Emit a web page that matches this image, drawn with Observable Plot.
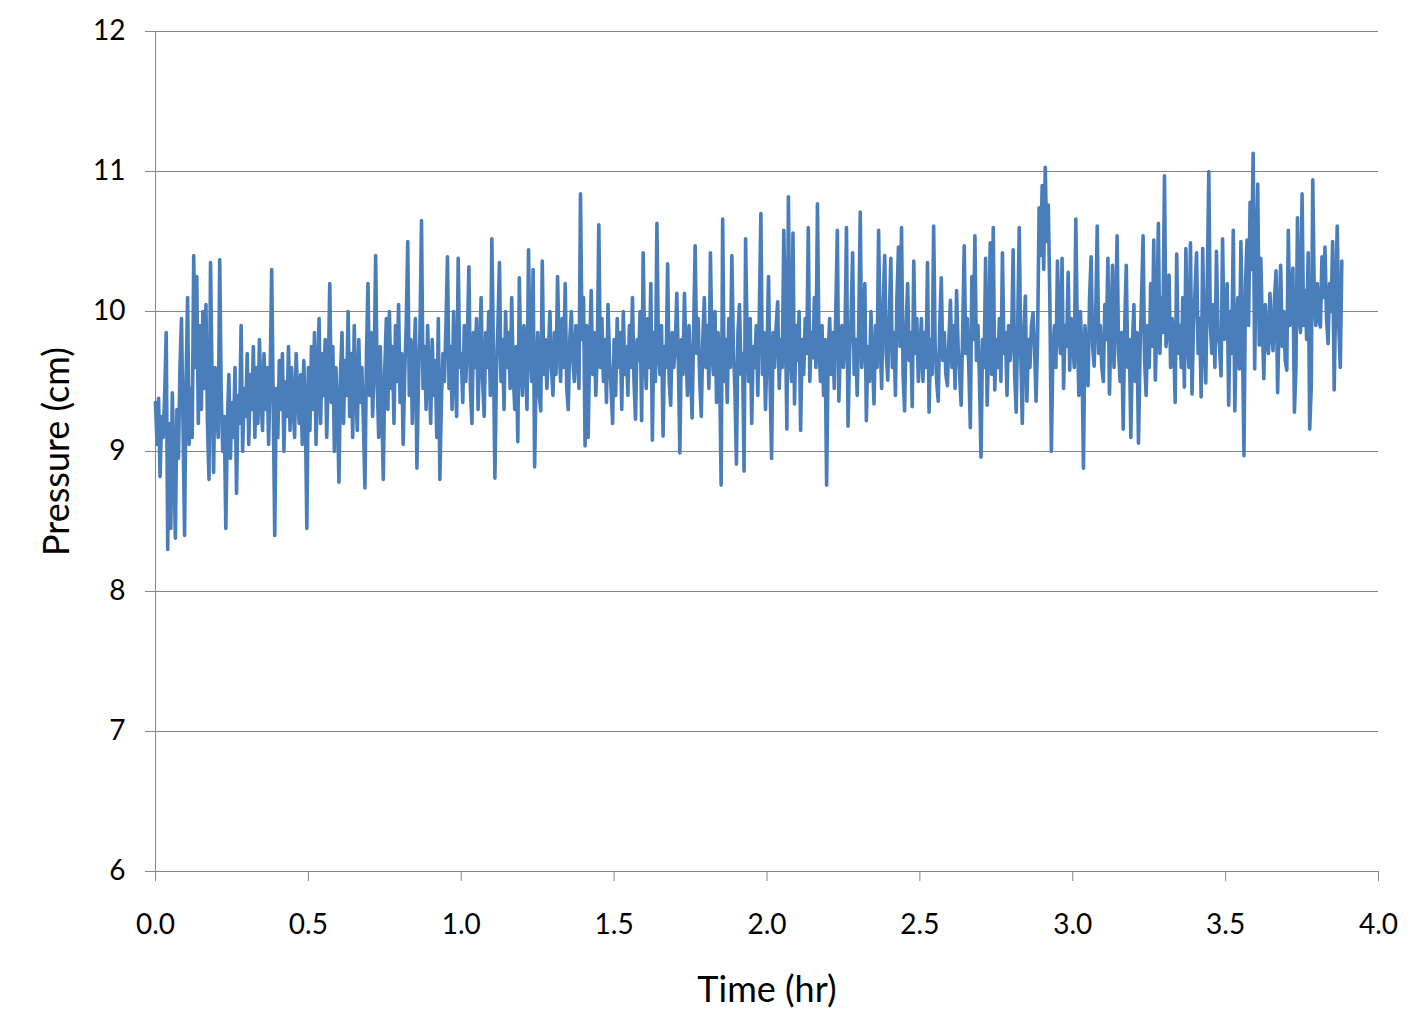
<!DOCTYPE html>
<html>
<head>
<meta charset="utf-8">
<script src="https://cdn.jsdelivr.net/npm/d3@7"></script>
<script src="https://cdn.jsdelivr.net/npm/@observablehq/plot@0.6"></script>
<style>
  html, body { margin: 0; padding: 0; background: white; overflow: hidden; }
</style>
</head>
<body>
<div id="chart"></div>
<script>
// sampling interval of the pressure record, in hours
const timeStep = 0.005;

// pressure readings (cm), one array per half hour
const pressure0to05 = [
  9.35, 9.05, 9.38, 8.82, 9.25, 9.1, 9.4, 9.85, 8.3, 9.2,
  8.45, 9.42, 8.9, 8.38, 9.3, 8.95, 9.6, 9.95, 9.2, 8.4,
  9.5, 10.1, 9.05, 9.45, 9.1, 10.4, 9.6, 10.25, 9.2, 9.9,
  9.3, 10.0, 9.45, 10.05, 9.2, 8.8, 10.35, 9.5, 8.85, 9.6,
  9.3, 9.1, 10.37, 9.4, 9.0, 9.25, 8.45, 9.2, 9.55, 8.95,
  9.35, 9.1, 9.6, 8.7, 9.4, 9.2, 9.9, 9.0, 9.45, 9.25,
  9.7, 9.05, 9.55, 9.3, 9.75, 9.1, 9.6, 9.2, 9.8, 9.4,
  9.15, 9.7, 9.3, 9.6, 9.05, 9.55, 10.3, 9.35, 8.4, 9.45,
  9.1, 9.65, 9.3, 9.7, 9.0, 9.5, 9.25, 9.75, 9.15, 9.6,
  9.35, 9.1, 9.7, 9.4, 9.2, 9.55, 9.05, 9.65, 9.3, 8.45
];
const pressure05to10 = [
  9.6, 9.15, 9.75, 9.3, 9.85, 9.05, 9.5, 9.95, 9.2, 9.7,
  9.4, 9.8, 9.1, 9.55, 10.2, 9.35, 9.75, 9.0, 9.6, 9.3,
  8.78, 9.55, 9.85, 9.2, 9.65, 9.4, 10.0, 9.25, 9.7, 9.1,
  9.9, 9.45, 9.15, 9.8, 9.35, 9.6, 9.2, 8.74, 9.7, 10.2,
  9.4, 9.85, 9.25, 9.6, 10.4, 9.5, 9.1, 9.75, 9.35, 8.8,
  9.6, 9.95, 9.3, 10.0, 9.45, 9.75, 9.2, 9.9, 9.5, 10.05,
  9.35, 9.7, 9.05, 9.55, 9.9, 10.5, 9.4, 9.8, 9.2, 9.65,
  9.95, 8.88, 9.5, 9.85, 10.65, 9.45, 9.75, 9.3, 9.9, 9.55,
  9.2, 9.8, 9.4, 9.65, 9.1, 9.95, 8.8, 9.35, 9.7, 9.5,
  9.9, 10.39, 9.45, 9.75, 9.3, 10.0, 9.55, 9.25, 10.38, 9.6
];
const pressure10to15 = [
  9.7, 9.35, 9.9, 9.5, 9.8, 10.32, 9.45, 9.2, 9.85, 9.6,
  9.95, 9.3, 9.7, 10.1, 9.5, 9.25, 9.85, 9.6, 10.0, 9.4,
  10.52, 9.75, 8.81, 9.55, 9.9, 10.35, 9.5, 9.8, 9.3, 10.0,
  9.6, 9.85, 9.45, 10.1, 9.55, 9.3, 9.75, 9.07, 10.24, 9.6,
  9.4, 9.9, 9.65, 9.3, 10.44, 9.7, 9.5, 10.3, 8.89, 9.6,
  9.85, 9.4, 9.29, 10.36, 9.55, 9.8, 9.45, 9.7, 10.0, 9.6,
  9.4, 9.85, 9.55, 10.25, 9.75, 9.5, 9.95, 9.6, 10.2, 9.45,
  9.3, 9.8, 10.0, 9.65, 9.5, 9.9, 9.7, 9.45, 10.84, 9.8,
  10.1, 9.04, 9.9, 9.1, 9.75, 10.15, 9.55, 9.85, 9.4, 9.7,
  10.62, 9.6, 9.95, 9.5, 9.8, 9.35, 10.05, 9.65, 9.45, 9.2
];
const pressure15to20 = [
  9.8, 9.4, 9.95, 9.6, 9.85, 9.3, 10.0, 9.55, 9.75, 9.4,
  9.9, 9.6, 10.1, 9.5, 9.23, 9.8, 9.65, 10.0, 9.22, 10.42,
  9.7, 9.45, 9.95, 9.6, 10.2, 9.08, 9.85, 9.5, 10.63, 9.7,
  9.55, 9.9, 9.11, 9.75, 9.6, 10.34, 9.5, 9.33, 9.85, 9.6,
  9.75, 10.13, 9.65, 8.99, 9.8, 9.55, 10.13, 9.7, 9.4, 9.9,
  9.6, 9.24, 9.85, 10.47, 9.7, 9.95, 9.5, 9.25, 9.8, 10.1,
  9.6, 9.9, 9.45, 10.42, 9.7, 9.55, 10.0, 9.35, 9.85, 9.6,
  8.76, 10.66, 9.5, 9.8, 9.35, 9.95, 9.6, 10.4, 9.75, 9.45,
  8.91, 9.85, 10.05, 9.55, 9.7, 8.86, 10.52, 9.8, 9.5, 9.95,
  9.2, 9.75, 9.6, 9.9, 9.4, 10.0, 10.7, 9.55, 9.85, 9.3
];
const pressure20to25 = [
  9.7, 10.25, 9.5, 8.95, 9.85, 9.6, 9.9, 10.07, 9.45, 9.8,
  9.6, 10.58, 9.95, 9.16, 10.82, 9.7, 9.5, 10.56, 9.34, 9.9,
  9.65, 10.0, 9.15, 9.8, 9.55, 9.95, 9.7, 10.6, 9.5, 9.85,
  9.67, 10.1, 9.6, 10.77, 9.75, 9.5, 9.9, 9.4, 9.8, 8.76,
  9.7, 9.95, 9.55, 9.85, 9.45, 10.0, 10.58, 9.36, 9.75, 9.9,
  9.6, 9.8, 10.6, 9.18, 9.7, 9.95, 10.42, 9.55, 9.8, 9.4,
  9.9, 10.71, 9.6, 9.85, 10.2, 9.22, 9.75, 9.5, 10.0, 9.65,
  9.34, 9.9, 9.6, 10.58, 9.8, 9.45, 10.05, 10.4, 9.7, 9.51,
  9.95, 10.38, 9.6, 9.85, 9.4, 10.1, 10.46, 9.75, 10.6, 9.55,
  9.29, 9.9, 10.2, 9.65, 9.85, 9.32, 10.36, 9.7, 9.95, 9.5
];
const pressure25to30 = [
  9.7, 9.95, 9.5, 9.85, 9.6, 10.35, 9.28, 9.8, 9.55, 10.61,
  9.75, 9.5, 9.36, 9.9, 10.24, 9.65, 9.85, 9.55, 9.47, 9.8,
  10.08, 9.6, 9.9, 9.45, 10.15, 9.75, 9.55, 9.33, 9.85, 10.47,
  9.7, 9.95, 9.6, 9.17, 10.25, 9.8, 10.54, 9.65, 9.9, 9.5,
  8.96, 9.8, 9.6, 10.38, 9.33, 9.75, 10.49, 9.55, 10.6, 9.44,
  9.8, 9.6, 9.95, 9.5, 10.42, 9.7, 9.85, 9.4, 9.9, 9.65,
  9.8, 10.44, 9.55, 9.28, 9.9, 10.6, 9.7, 9.2, 9.85, 10.11,
  9.36, 9.8, 9.6, 9.9, 9.99, 9.75, 9.36, 9.8, 10.74, 10.4,
  10.9, 10.3, 11.03, 10.5, 10.76, 10.1, 9.0, 9.7, 9.9, 9.6,
  10.36, 9.85, 9.7, 10.38, 9.45, 9.9, 9.75, 10.28, 9.58, 9.95
];
const pressure30to35 = [
  9.8, 9.6, 10.66, 9.85, 9.4, 10.0, 9.7, 8.88, 9.9, 9.65,
  9.47, 10.1, 10.39, 9.75, 9.61, 9.95, 10.61, 9.7, 9.9, 9.6,
  9.5, 10.05, 9.8, 10.38, 9.41, 9.85, 10.33, 9.6, 9.95, 10.54,
  9.7, 9.5, 9.85, 9.16, 9.9, 10.33, 9.6, 9.8, 9.1, 9.75,
  10.05, 9.5, 9.85, 9.06, 9.7, 10.1, 10.54, 9.65, 9.4, 9.9,
  9.6, 10.2, 9.75, 10.51, 9.51, 9.9, 10.63, 9.7, 10.1, 9.85,
  10.97, 9.75, 9.9, 10.26, 9.6, 9.95, 9.8, 9.35, 10.41, 9.7,
  9.9, 9.6, 10.1, 9.46, 10.45, 9.8, 9.6, 10.49, 9.41, 9.9,
  10.15, 10.42, 9.7, 9.95, 9.39, 10.45, 9.8, 9.49, 10.2, 11.0,
  9.9, 9.7, 10.05, 9.6, 10.43, 9.85, 9.75, 9.54, 10.52, 9.8
];
const pressure35to388 = [
  9.9, 10.2, 9.33, 10.0, 9.7, 10.58, 9.29, 9.85, 10.1, 9.59,
  10.5, 9.8, 8.97, 10.2, 10.51, 9.9, 10.78, 10.3, 11.13, 9.59,
  10.4, 10.91, 9.76, 10.38, 9.9, 9.52, 10.05, 9.8, 9.7, 10.13,
  9.85, 9.72, 10.1, 10.29, 9.42, 9.95, 10.33, 9.75, 10.0, 9.65,
  9.58, 10.58, 9.9, 10.1, 10.31, 9.28, 9.6, 10.67, 10.0, 9.85,
  10.84, 9.9, 10.15, 9.8, 10.42, 9.16, 9.46, 10.94, 10.1, 9.9,
  10.2, 9.95, 9.89, 10.39, 10.1, 10.46, 9.95, 9.77, 10.2, 10.0,
  10.5, 9.44, 10.1, 10.61, 9.9, 9.6, 10.36
];

const xTicks = [0, 0.5, 1, 1.5, 2, 2.5, 3, 3.5, 4];
const yTicks = [6, 7, 8, 9, 10, 11, 12];

const pressure = [
  ...pressure0to05, ...pressure05to10, ...pressure10to15, ...pressure15to20,
  ...pressure20to25, ...pressure25to30, ...pressure30to35, ...pressure35to388
];
const records = pressure.map((p, i) => ({time: i * timeStep, pressure: p}));

const gray = "#868686";

let chart = Plot.plot({
  width: 1423,
  height: 1035,
  marginLeft: 155,
  marginRight: 45,
  marginTop: 31,
  marginBottom: 164,
  style: {fontFamily: "Lato, 'Open Sans', sans-serif", fontSize: "28px", color: "black", background: "white"},
  x: {domain: [0, 4]},
  y: {domain: [6, 12]},
  marks: [
    Plot.gridY(yTicks, {stroke: gray, strokeOpacity: 1, strokeWidth: 1}),
    Plot.ruleX([0], {stroke: gray, strokeWidth: 1}),
    Plot.axisY(yTicks, {
      tickSize: 10, tickPadding: 20, stroke: gray, fill: "black",
      tickFormat: d3.format("d"),
      label: "Pressure (cm)", labelAnchor: "center", labelOffset: 112, labelArrow: "none",
      fontSize: 28
    }),
    Plot.axisX(xTicks, {
      tickSize: 10, tickPadding: 33, stroke: gray, fill: "black",
      tickFormat: d3.format(".1f"),
      label: "Time (hr)", labelAnchor: "center", labelOffset: 130, labelArrow: "none",
      fontSize: 28
    }),
    Plot.lineY(records, {x: "time", y: "pressure", stroke: "#4a7ebb", strokeWidth: 3.6})
  ]
});

// axis titles are a little larger than the tick labels
d3.select(chart).selectAll("g[aria-label='y-axis label'] text, g[aria-label='x-axis label'] text")
  .style("font-size", "36px");

d3.select('#chart').append(() => chart);
</script>
</body>
</html>
